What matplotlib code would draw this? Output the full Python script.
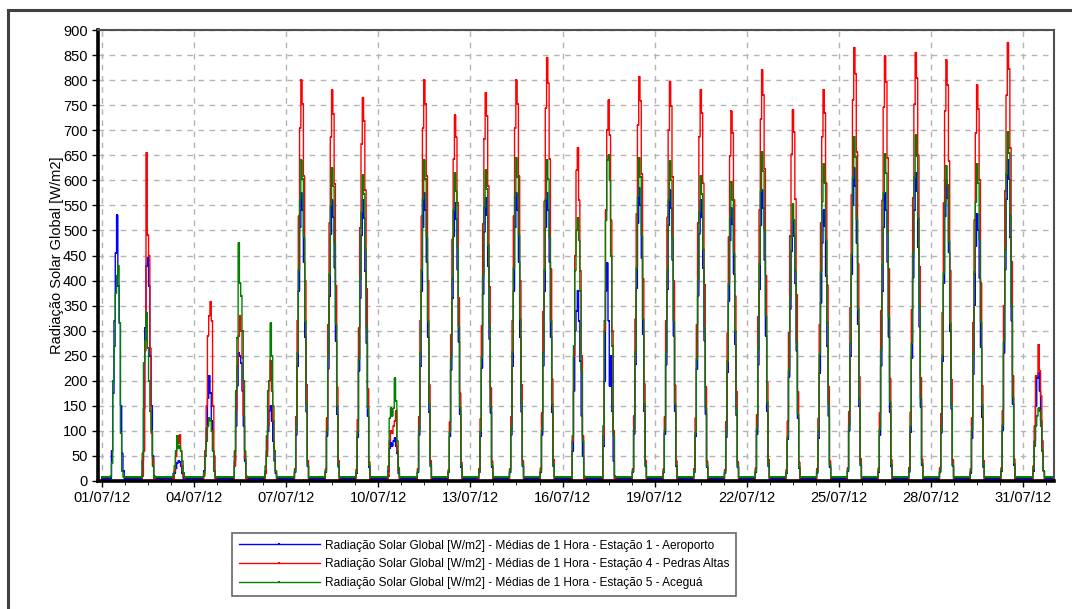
import numpy as np
import pandas as pd
import matplotlib
matplotlib.use("Agg")
import matplotlib.pyplot as plt
import matplotlib.dates as mdates
from matplotlib.lines import Line2D
from matplotlib.ticker import MultipleLocator

plt.rcParams['font.family'] = ['Liberation Sans', 'DejaVu Sans']

# Hours of the day with sunlight (values below, one row per day of July 2012)
day_hours = [7, 8, 9, 10, 11, 12, 13, 14, 15, 16, 17]
night_blue, night_red, night_green = 5, 2, 8

labels = [
    "Radiação Solar Global [W/m2] - Médias de 1 Hora - Estação 1 - Aeroporto",
    "Radiação Solar Global [W/m2] - Médias de 1 Hora - Estação 4 - Pedras Altas",
    "Radiação Solar Global [W/m2] - Médias de 1 Hora - Estação 5 - Aceguá",
]

aeroporto = [
    [5, 60, 175, 320, 455, 530, 390, 315, 150, 55, 20],
    [5, 40, 145, 305, 430, 445, 390, 250, 150, 50, 10],
    [3, 8, 15, 25, 35, 40, 38, 30, 15, 5, 3],
    [5, 20, 60, 105, 165, 210, 175, 120, 60, 20, 5],
    [5, 40, 110, 190, 255, 250, 235, 180, 110, 40, 8],
    [5, 20, 60, 100, 140, 150, 120, 80, 40, 15, 5],
    [17, 92, 230, 380, 506, 575, 540, 437, 288, 138, 29],
    [17, 90, 224, 370, 493, 560, 526, 426, 280, 134, 28],
    [16, 88, 220, 365, 490, 560, 525, 420, 275, 130, 27],
    [5, 20, 65, 75, 70, 80, 85, 70, 55, 15, 5],
    [17, 92, 230, 380, 506, 575, 540, 437, 288, 138, 29],
    [17, 89, 222, 366, 488, 555, 522, 422, 278, 133, 28],
    [17, 90, 226, 373, 497, 565, 531, 429, 283, 136, 28],
    [17, 92, 230, 380, 506, 575, 540, 437, 288, 138, 29],
    [17, 92, 230, 380, 506, 575, 540, 437, 288, 138, 29],
    [5, 60, 180, 300, 340, 380, 320, 240, 130, 50, 8],
    [5, 70, 200, 380, 435, 320, 190, 250, 140, 40, 5],
    [18, 94, 234, 386, 515, 585, 550, 445, 293, 140, 29],
    [17, 93, 232, 383, 510, 580, 545, 441, 290, 139, 29],
    [17, 90, 224, 370, 493, 560, 526, 426, 280, 134, 28],
    [16, 87, 218, 360, 480, 545, 512, 414, 273, 131, 27],
    [17, 93, 232, 383, 510, 580, 545, 441, 290, 139, 29],
    [16, 83, 208, 343, 458, 520, 489, 395, 260, 125, 26],
    [16, 86, 216, 356, 475, 540, 508, 410, 270, 130, 27],
    [19, 100, 250, 413, 550, 625, 588, 475, 313, 150, 31],
    [17, 92, 230, 380, 506, 575, 540, 437, 288, 138, 29],
    [18, 98, 246, 406, 541, 615, 578, 467, 308, 148, 31],
    [18, 96, 240, 396, 528, 600, 564, 456, 300, 144, 30],
    [16, 85, 213, 352, 469, 533, 501, 405, 267, 128, 27],
    [19, 102, 256, 422, 563, 640, 602, 486, 320, 154, 32],
    [5, 20, 80, 150, 205, 215, 180, 120, 60, 20, 5],
]

pedras_altas = [
    [0, 0, 0, 0, 0, 0, 0, 0, 0, 0, 0],
    [0, 10, 60, 260, 655, 490, 450, 265, 95, 45, 5],
    [0, 5, 20, 50, 90, 75, 92, 60, 30, 10, 0],
    [0, 10, 60, 150, 290, 330, 358, 320, 150, 50, 5],
    [0, 30, 140, 230, 290, 330, 300, 245, 130, 45, 5],
    [0, 15, 50, 110, 200, 240, 180, 120, 60, 20, 2],
    [24, 128, 320, 528, 704, 800, 752, 608, 400, 192, 40],
    [23, 125, 312, 515, 686, 780, 733, 593, 390, 187, 39],
    [23, 122, 306, 505, 673, 765, 719, 581, 383, 184, 38],
    [0, 10, 80, 100, 95, 110, 120, 140, 60, 20, 2],
    [24, 128, 320, 528, 704, 800, 752, 608, 400, 192, 40],
    [22, 117, 292, 482, 642, 730, 686, 555, 365, 175, 37],
    [23, 124, 310, 512, 682, 775, 729, 589, 388, 186, 39],
    [24, 128, 320, 528, 704, 800, 752, 608, 400, 192, 40],
    [25, 135, 338, 558, 744, 845, 794, 642, 423, 203, 42],
    [0, 80, 250, 450, 620, 665, 560, 420, 250, 90, 5],
    [0, 90, 300, 540, 700, 760, 690, 520, 300, 100, 5],
    [24, 129, 323, 533, 710, 807, 759, 613, 404, 194, 40],
    [24, 128, 319, 526, 701, 797, 749, 606, 399, 191, 40],
    [23, 125, 312, 515, 687, 781, 734, 594, 391, 187, 39],
    [22, 118, 295, 487, 649, 738, 694, 561, 369, 177, 37],
    [25, 131, 328, 541, 722, 820, 771, 623, 410, 197, 41],
    [22, 119, 296, 489, 652, 741, 697, 563, 371, 178, 37],
    [23, 125, 312, 515, 687, 781, 734, 594, 391, 187, 39],
    [26, 138, 346, 571, 761, 865, 813, 657, 433, 208, 43],
    [25, 136, 339, 560, 746, 848, 797, 644, 424, 204, 42],
    [26, 137, 342, 564, 752, 855, 804, 650, 428, 205, 43],
    [25, 134, 336, 554, 739, 840, 790, 638, 420, 202, 42],
    [24, 126, 316, 521, 695, 790, 743, 600, 395, 190, 40],
    [26, 140, 350, 578, 770, 875, 823, 665, 438, 210, 44],
    [0, 30, 110, 210, 210, 272, 220, 170, 80, 20, 0],
]

acegua = [
    [10, 35, 200, 270, 375, 410, 430, 315, 95, 20, 8],
    [8, 55, 235, 280, 335, 265, 200, 140, 100, 30, 8],
    [8, 15, 30, 60, 90, 65, 70, 60, 40, 15, 8],
    [8, 15, 50, 80, 110, 125, 120, 100, 60, 20, 8],
    [8, 60, 180, 285, 475, 395, 370, 300, 200, 60, 10],
    [8, 30, 90, 180, 200, 315, 250, 150, 60, 20, 8],
    [19, 102, 256, 422, 563, 640, 602, 486, 320, 154, 32],
    [19, 100, 250, 413, 550, 625, 588, 475, 313, 150, 31],
    [18, 98, 244, 403, 537, 610, 573, 464, 305, 146, 31],
    [8, 30, 125, 145, 130, 145, 205, 160, 80, 25, 8],
    [19, 102, 256, 422, 563, 640, 602, 486, 320, 154, 32],
    [18, 98, 246, 406, 541, 615, 578, 467, 308, 148, 31],
    [19, 99, 248, 409, 546, 620, 583, 471, 310, 149, 31],
    [19, 103, 258, 426, 568, 645, 606, 490, 323, 155, 32],
    [19, 102, 256, 422, 563, 640, 602, 486, 320, 154, 32],
    [8, 90, 270, 420, 500, 525, 480, 380, 220, 80, 10],
    [8, 110, 320, 520, 640, 650, 600, 450, 270, 90, 10],
    [19, 103, 258, 426, 568, 645, 606, 490, 323, 155, 32],
    [19, 102, 255, 421, 561, 638, 600, 485, 319, 153, 32],
    [18, 97, 244, 402, 536, 609, 572, 463, 305, 146, 30],
    [18, 96, 239, 394, 525, 597, 561, 454, 299, 143, 30],
    [20, 105, 263, 434, 578, 657, 618, 499, 329, 158, 33],
    [17, 88, 221, 365, 487, 553, 520, 420, 277, 133, 28],
    [19, 101, 253, 418, 557, 633, 595, 481, 317, 152, 32],
    [21, 110, 275, 453, 605, 687, 646, 522, 344, 165, 34],
    [20, 104, 261, 431, 575, 653, 614, 496, 327, 157, 33],
    [21, 110, 276, 455, 607, 690, 649, 524, 345, 166, 35],
    [19, 101, 252, 415, 554, 629, 591, 478, 315, 151, 31],
    [19, 101, 253, 418, 557, 633, 595, 481, 317, 152, 32],
    [21, 112, 279, 460, 613, 697, 655, 530, 349, 167, 35],
    [8, 25, 70, 110, 130, 145, 140, 110, 60, 20, 8],
]

times = pd.date_range("2012-07-01 00:00", periods=31 * 24, freq="h")


def hourly(rows, night):
    arr = np.full((len(rows), 24), float(night))
    arr[:, day_hours[0]:day_hours[-1] + 1] = np.array(rows, dtype=float)
    return arr.ravel()


series = [
    (hourly(aeroporto, night_blue), "#0000ff"),
    (hourly(pedras_altas, night_red), "#ff0000"),
    (hourly(acegua, night_green), "#008000"),
]

W, H = 1072, 609
fig = plt.figure(figsize=(W / 100, H / 100), dpi=100)
ax = fig.add_axes([98 / W, 1 - 481 / H, (1054 - 98) / W, (481 - 30) / H])

for (vals, col), lab in zip(series, labels):
    ax.plot(times, vals, color=col, lw=1.0, drawstyle="steps-mid",
            marker="s", markersize=1.8, markeredgewidth=0, label=lab)

x0 = pd.Timestamp("2012-07-01 00:00") - pd.Timedelta(hours=3)
x1 = pd.Timestamp("2012-08-01 00:00")
ax.set_xlim(x0, x1)
ax.set_ylim(0, 900)

ax.yaxis.set_major_locator(MultipleLocator(50))
major_days = [pd.Timestamp(2012, 7, d) for d in range(1, 32, 3)]
ax.set_xticks(major_days)
ax.xaxis.set_major_formatter(mdates.DateFormatter("%d/%m/%y"))
ax.xaxis.set_minor_locator(MultipleLocator(0.75))

ax.grid(True, which="major", color="#b4b4b4", linestyle=(0, (4, 4)), lw=1.0)
ax.tick_params(axis="both", labelsize=10.5, colors="#000000", length=4, width=1)
ax.tick_params(axis="x", which="minor", length=3)

for s in ("left", "bottom"):
    ax.spines[s].set_linewidth(2.6)
    ax.spines[s].set_color("#000000")
for s in ("top", "right"):
    ax.spines[s].set_linewidth(1.5)
    ax.spines[s].set_color("#505050")

ax.set_ylabel("Radiação Solar Global [W/m2]", fontsize=10.5, labelpad=-0.5)

leg = fig.legend(loc="upper left", bbox_to_anchor=(232 / W, 1 - 533 / H),
                 fontsize=8.6, handlelength=6.8, numpoints=1, frameon=True,
                 fancybox=False, borderpad=0.55, labelspacing=0.56,
                 handletextpad=0.45, borderaxespad=0)
leg.get_frame().set_edgecolor("#404040")
leg.get_frame().set_linewidth(1.2)

# outer frame: top and left edges only
fig.add_artist(Line2D([8 / W, 1.0], [1 - 10 / H, 1 - 10 / H], transform=fig.transFigure,
                      color="#404040", lw=2.2))
fig.add_artist(Line2D([8 / W, 8 / W], [0.0, 1 - 10 / H], transform=fig.transFigure,
                      color="#404040", lw=2.2))

fig.savefig("out.png", dpi=100)
